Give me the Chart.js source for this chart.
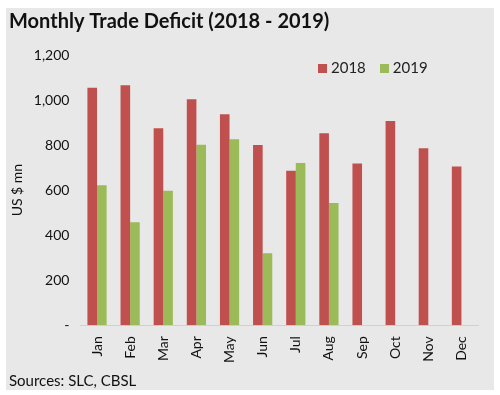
<!DOCTYPE html>
<html>
<head>
<meta charset="utf-8">
<script src="https://cdn.jsdelivr.net/npm/chart.js@4"></script>
<style>
  body { margin: 0; background: #fff; }
  #wrap { position: relative; width: 500px; height: 395px; }
  #legend { position: absolute; left: 318px; top: 58px; font: 15px Lato, sans-serif; color: #222; }
  #legend span.box { display: inline-block; width: 9px; height: 9px; margin-right: 4px; }
  #legend span.item { margin-right: 14px; }
</style>
</head>
<body>
<div id="wrap">
  <canvas id="myChart" width="500" height="395"></canvas>
  <div id="legend"></div>
</div>
<script>
const months = ['Jan', 'Feb', 'Mar', 'Apr', 'May', 'Jun', 'Jul', 'Aug', 'Sep', 'Oct', 'Nov', 'Dec']
const deficit_2018 = [1054, 1066, 875, 1003, 937, 800, 686, 853, 718, 907, 786, 705]
const deficit_2019 = [622, 457, 597, 801, 826, 320, 720, 543, null, null, null, null]
const series_names = ['2018', '2019']
const colors = ['#c0504d', '#9bbb59']

// grey panel behind everything
const panel = {
    id: 'panel',
    beforeDraw(chart) {
        const c = chart.ctx
        c.save()
        c.fillStyle = '#ffffff'
        c.fillRect(0, 0, chart.width, chart.height)
        c.fillStyle = '#e8e8e8'
        c.fillRect(6, 8, 488, 382)
        c.restore()
    }
}

const legendDiv = document.getElementById('legend')
series_names.forEach((name, i) => {
    legendDiv.innerHTML += '<span class="item"><span class="box" style="background:' + colors[i] + '"></span>' + name + '</span>'
})

const ctx = document.getElementById('myChart').getContext('2d')
const myChart = new Chart(ctx, {
    type: 'bar',
    data: {
        labels: months,
        datasets: [
            { label: series_names[0], data: deficit_2018, backgroundColor: colors[0] },
            { label: series_names[1], data: deficit_2019, backgroundColor: colors[1] }
        ]
    },
    options: {
        responsive: false,
        animation: false,
        categoryPercentage: 0.58,
        barPercentage: 1,
        layout: { padding: { left: 9, right: 22, top: 0, bottom: 3 } },
        plugins: {
            legend: { display: false },
            tooltip: { enabled: false },
            title: {
                display: true,
                text: 'Monthly Trade Deficit (2018 - 2019)',
                align: 'start',
                color: '#111',
                font: { family: 'Lato', size: 20, weight: 'bold' },
                padding: { top: 10, bottom: 21 }
            },
            subtitle: {
                display: true,
                position: 'bottom',
                text: 'Sources: SLC, CBSL',
                align: 'start',
                color: '#111',
                font: { family: 'Lato', size: 15 },
                padding: { top: 6, bottom: 2 }
            }
        },
        scales: {
            x: {
                grid: { display: false },
                border: { color: '#d0d0d0' },
                ticks: {
                    minRotation: 90, maxRotation: 90,
                    color: '#111',
                    font: { family: 'Lato', size: 14 }
                }
            },
            y: {
                min: 0, max: 1200,
                grid: { display: false },
                border: { display: false },
                ticks: {
                    stepSize: 200,
                    color: '#111',
                    font: { family: 'Lato', size: 14 },
                    callback: (v) => v === 0 ? '-' : v.toLocaleString('en-US')
                },
                title: {
                    display: true,
                    text: 'US $ mn',
                    color: '#111',
                    padding: { top: 0, bottom: 5 },
                    font: { family: 'Lato', size: 14 }
                }
            }
        }
    },
    plugins: [panel]
})
</script>
</body>
</html>
